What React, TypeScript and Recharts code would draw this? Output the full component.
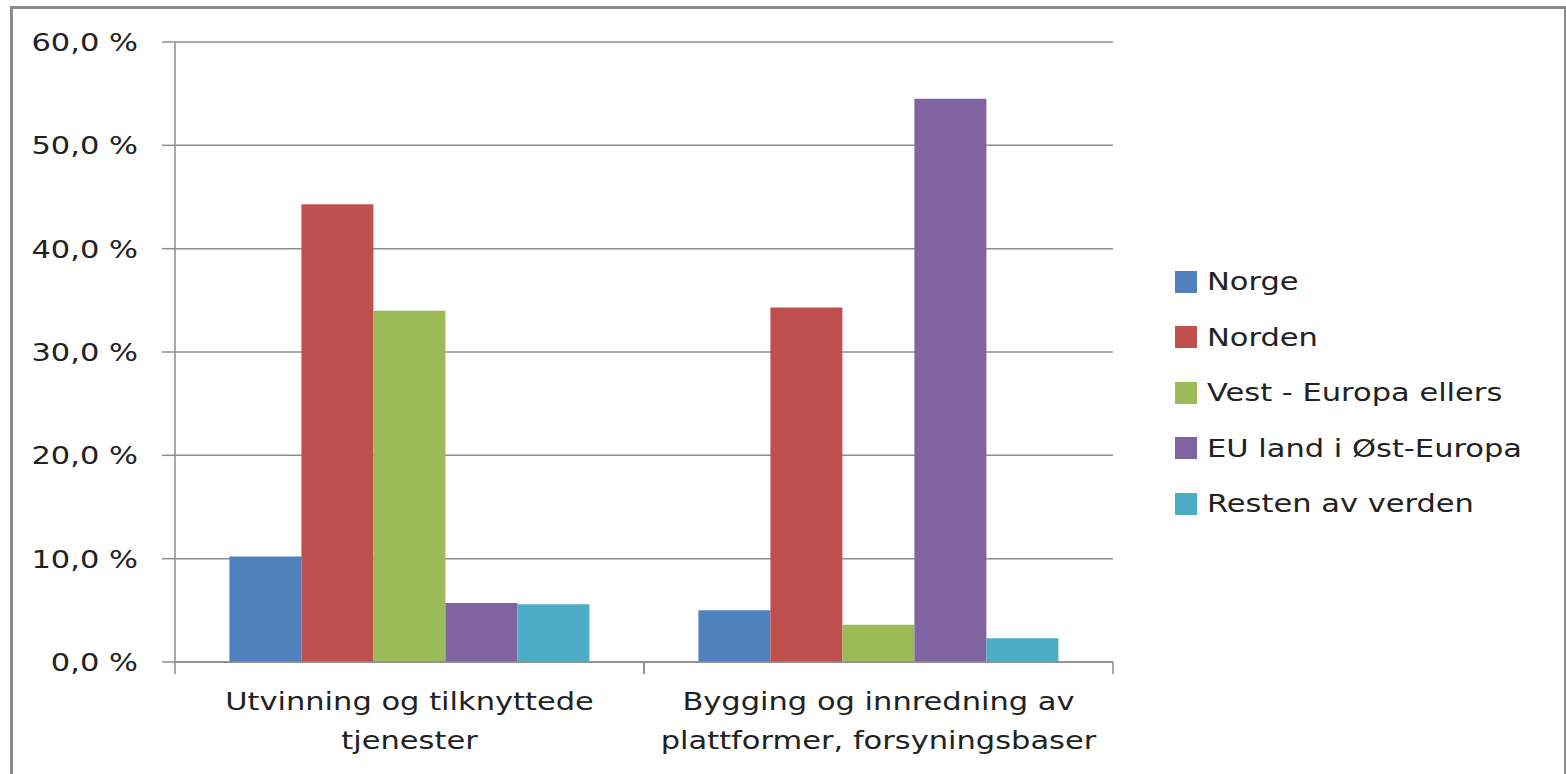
import React from 'react';
import { BarChart, Bar, XAxis, YAxis, CartesianGrid } from 'recharts';

const categories = ['Utvinning og tilknyttede|tjenester', 'Bygging og innredning av|plattformer, forsyningsbaser'];
const seriesNames = ['Norge', 'Norden', 'Vest - Europa ellers', 'EU land i Øst-Europa', 'Resten av verden'];
const seriesColors = ['#4F81BD', '#C0504D', '#9BBB59', '#8064A2', '#4BACC6'];
const norge = [10.2, 5.0];
const norden = [44.3, 34.3];
const vestEuropa = [34.0, 3.6];
const euOst = [5.7, 54.5];
const resten = [5.6, 2.3];
const yTicks = [0, 10, 20, 30, 40, 50, 60];

const seriesValues = [norge, norden, vestEuropa, euOst, resten];
const data = categories.map((c, i) => {
    const row: any = { cat: c };
    seriesNames.forEach((s, k) => { row['s' + k] = seriesValues[k][i]; });
    return row;
});

const FONT = '"DejaVu Sans", sans-serif';
const STRETCH = 1.22;
const GRID = '#8c8c8c';

// category label plus the tick marks on the band edges (Excel style)
const CatTick = ({ x, y, payload }: any) => {
    const lines = String(payload.value).split('|');
    const half = payload.offset || 0;
    return (
        <g>
            <line x1={x - half} x2={x - half} y1={y} y2={y + 12} stroke={GRID} strokeWidth={1.5} />
            <line x1={x + half} x2={x + half} y1={y} y2={y + 12} stroke={GRID} strokeWidth={1.5} />
            {lines.map((l, i) => (
                <text key={i} transform={`translate(${x},${y + 48 + i * 39}) scale(${STRETCH},1)`} textAnchor="middle"
                    fill="#222" fontSize={25} fontFamily={FONT}>
                    {l}
                </text>
            ))}
        </g>
    );
};

const PctTick = ({ x, y, payload }: any) => (
    <text transform={`translate(${x},${y}) scale(${STRETCH},1)`} textAnchor="end" dy="0.36em"
        fill="#222" fontSize={25} fontFamily={FONT}>
        {Number(payload.value).toFixed(1).replace('.', ',') + ' %'}
    </text>
);

const LegendBox = () => (
    <div style={{ position: 'absolute', left: 1175, top: 254, fontFamily: FONT, fontSize: 25, color: '#222' }}>
        {seriesNames.map((s, i) => (
            <div key={s} style={{ display: 'flex', alignItems: 'center', height: 55.5, whiteSpace: 'nowrap' }}>
                <span style={{ width: 22, height: 22, background: seriesColors[i], display: 'inline-block', marginRight: 10 }} />
                <span style={{ display: 'inline-block', transform: `scaleX(${STRETCH})`, transformOrigin: 'left center' }}>{s}</span>
            </div>
        ))}
    </div>
);

export default function App() {
    return (
        <div style={{ position: 'relative', width: 1566, height: 774, overflow: 'hidden', background: '#fff' }}>
            <style>{'body{margin:0;overflow:hidden}'}</style>
            <div style={{ position: 'absolute', left: 10, top: 6, width: 1551, height: 780, border: '3px solid #8a8a8a', borderBottom: 'none' }} />
            <div style={{ position: 'absolute', left: 0, top: 0 }}>
                <BarChart width={1566} height={774} data={data} margin={{ top: 42, right: 453, bottom: 0, left: 0 }}
                    barCategoryGap="11.6%" barGap={0}>
                    <CartesianGrid horizontal vertical={false} stroke={GRID} strokeWidth={1.5} />
                    <XAxis dataKey="cat" tick={<CatTick />} tickLine={false} tickSize={0} tickMargin={0}
                        axisLine={{ stroke: GRID, strokeWidth: 1.5 }} interval={0} height={112} />
                    <YAxis domain={[0, 60]} ticks={yTicks} width={175} tickSize={13} tickMargin={24}
                        tick={<PctTick />}
                        axisLine={{ stroke: GRID, strokeWidth: 1.5 }} tickLine={{ stroke: GRID, strokeWidth: 1.5 }} />
                    {seriesNames.map((s, k) => (
                        <Bar key={s} dataKey={'s' + k} name={s} fill={seriesColors[k]} isAnimationActive={false} />
                    ))}
                </BarChart>
            </div>
            <LegendBox />
        </div>
    );
}
